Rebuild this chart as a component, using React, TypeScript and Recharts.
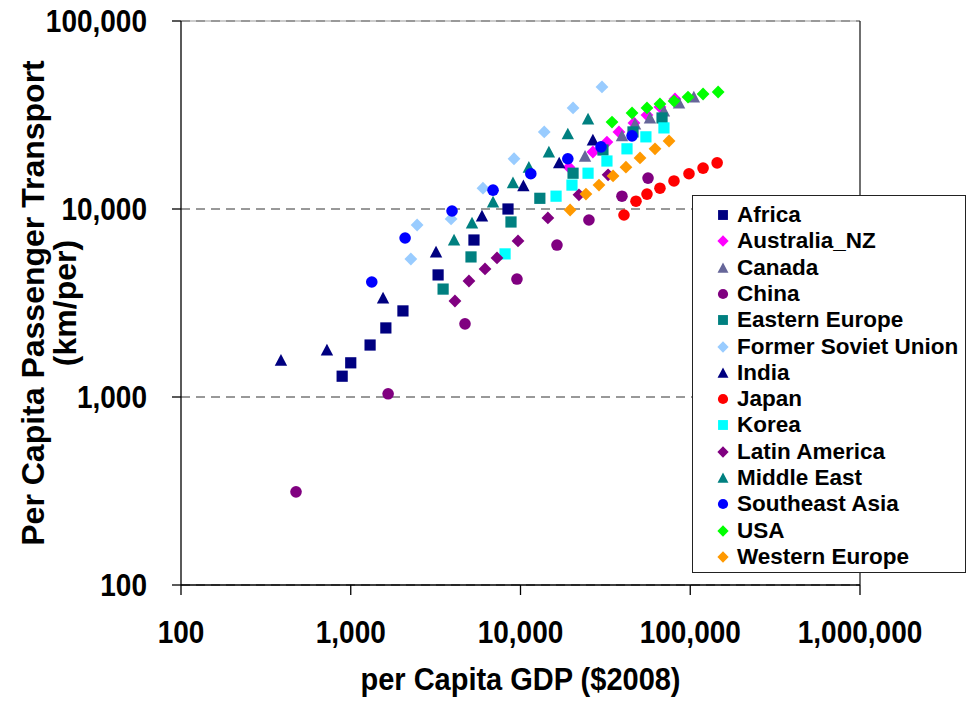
import React from "react";
import { CartesianGrid, Legend, ReferenceLine, Scatter, ScatterChart, XAxis, YAxis } from "recharts";

type Pt = [number, number];

// [GDP per capita ($2008), passenger km per capita]
const africa: Pt[] = [[890, 1290], [1000, 1520], [1300, 1890], [1610, 2330], [2030, 2870], [3270, 4460], [5320, 6840], [8440, 10000]];
const australiaNz: Pt[] = [[19300, 16700], [26700, 20100], [32300, 22700], [38000, 25700], [46600, 28700], [55600, 31600], [66300, 34900], [81300, 38500]];
const canada: Pt[] = [[24000, 19100], [39600, 24500], [47300, 28300], [57900, 30500], [70000, 33200], [85900, 36600], [105000, 39400]];
const china: Pt[] = [[476, 313], [1660, 1040], [4710, 2450], [9530, 4240], [16400, 6430], [25300, 8740], [39600, 11700], [56400, 14600]];
const easternEurope: Pt[] = [[3500, 3750], [5110, 5560], [8790, 8530], [13000, 11400], [20400, 15500], [30600, 20600], [46000, 25700], [68200, 30500]];
const formerSoviet: Pt[] = [[2260, 5420], [2460, 8220], [3900, 8850], [6010, 12900], [9160, 18500], [13800, 25700], [20400, 34500], [30200, 44600]];
const india: Pt[] = [[388, 1570], [724, 1780], [1550, 3360], [3180, 5910], [5930, 9180], [10400, 13300], [16900, 17600], [26700, 23300]];
const japan: Pt[] = [[40700, 9290], [47900, 11000], [55600, 12000], [66300, 12900], [80200, 14100], [98300, 15400], [119000, 16500], [144000, 17600]];
const korea: Pt[] = [[8110, 5770], [16200, 11700], [20100, 13400], [25000, 15500], [32300, 18000], [42400, 20900], [54800, 24200], [70000, 27000]];
const latinAmerica: Pt[] = [[4110, 3240], [4970, 4140], [6180, 4800], [7270, 5490], [9670, 6760], [14500, 8960], [22100, 11900], [32800, 15200]];
const middleEast: Pt[] = [[4060, 6840], [5180, 8430], [6890, 10900], [9030, 13800], [11200, 16700], [14700, 20100], [19000, 25100], [25000, 30100]];
const southeastAsia: Pt[] = [[1330, 4090], [2090, 7010], [3950, 9760], [6890, 12600], [11500, 15400], [19000, 18500], [29800, 21400], [45400, 24500]];
const usa: Pt[] = [[34600, 29000], [45400, 32400], [55600, 34500], [66300, 36200], [80200, 37500], [97000, 39400], [119000, 40900], [146000, 41900]];
const westernEurope: Pt[] = [[19600, 9880], [24300, 12000], [29000, 13400], [35100, 15000], [41800, 16700], [50600, 18700], [62000, 20900], [75000, 23000]];

const xTicks = [100, 1000, 10000, 100000, 1000000];
const yTicks = [100, 1000, 10000, 100000];

type Shape = "square" | "diamond" | "triangle" | "circle";

const SERIES: { name: string; color: string; shape: Shape; data: Pt[] }[] = [
  { name: "Africa", color: "#000080", shape: "square", data: africa },
  { name: "Australia_NZ", color: "#FF00FF", shape: "diamond", data: australiaNz },
  { name: "Canada", color: "#666699", shape: "triangle", data: canada },
  { name: "China", color: "#800080", shape: "circle", data: china },
  { name: "Eastern Europe", color: "#008080", shape: "square", data: easternEurope },
  { name: "Former Soviet Union", color: "#99CCFF", shape: "diamond", data: formerSoviet },
  { name: "India", color: "#000080", shape: "triangle", data: india },
  { name: "Japan", color: "#FF0000", shape: "circle", data: japan },
  { name: "Korea", color: "#00FFFF", shape: "square", data: korea },
  { name: "Latin America", color: "#800080", shape: "diamond", data: latinAmerica },
  { name: "Middle East", color: "#008080", shape: "triangle", data: middleEast },
  { name: "Southeast Asia", color: "#0000FF", shape: "circle", data: southeastAsia },
  { name: "USA", color: "#00FF00", shape: "diamond", data: usa },
  { name: "Western Europe", color: "#FF9900", shape: "diamond", data: westernEurope },
];

const FONT = '"Liberation Sans", Arial, sans-serif';
const W = 968;
const H = 701;
const L = 181;
const T = 21;
const R = 860;
const B = 585;

const fmt = (v: number) => v.toLocaleString("en-US");

function Marker({ cx, cy, shape, color, k = 1 }: { cx: number; cy: number; shape: Shape; color: string; k?: number }) {
  if (cx == null || cy == null) return null;
  if (shape === "square") {
    const h = 5.6 * k;
    return <rect x={cx - h} y={cy - h} width={2 * h} height={2 * h} fill={color} />;
  }
  if (shape === "circle") return <circle cx={cx} cy={cy} r={5.8 * k} fill={color} />;
  if (shape === "diamond") {
    const h = 6.4 * k;
    return <path d={`M${cx},${cy - h}L${cx + h},${cy}L${cx},${cy + h}L${cx - h},${cy}Z`} fill={color} />;
  }
  const w = 6.2 * k;
  return <path d={`M${cx},${cy - 6.2 * k}L${cx + w},${cy + 5.5 * k}L${cx - w},${cy + 5.5 * k}Z`} fill={color} />;
}

const XTick = ({ x, y, payload }: any) => (
  <g transform={`translate(${x},${y + 46}) scale(1,1.1)`}>
    <text textAnchor="middle" fontFamily={FONT} fontWeight="bold" fontSize={28} fill="#000">
      {fmt(payload.value)}
    </text>
  </g>
);

const YTick = ({ x, y, payload }: any) => (
  <g transform={`translate(${x - 23},${y + 11}) scale(1,1.1)`}>
    <text textAnchor="end" fontFamily={FONT} fontWeight="bold" fontSize={28} fill="#000">
      {fmt(payload.value)}
    </text>
  </g>
);

const XTitle = () => (
  <g transform={`translate(${(L + R) / 2},690) scale(1,1.1)`}>
    <text textAnchor="middle" fontFamily={FONT} fontWeight="bold" fontSize={29} fill="#000">
      per Capita GDP ($2008)
    </text>
  </g>
);

const YTitle = () => (
  <g fontFamily={FONT} fontWeight="bold" fontSize={32} fill="#000">
    <text transform={`translate(44,${(T + B) / 2}) rotate(-90)`} textAnchor="middle">
      Per Capita Passenger Transport
    </text>
    <text transform={`translate(76,${(T + B) / 2}) rotate(-90)`} textAnchor="middle">
      (km/per)
    </text>
  </g>
);

const LegendBox = () => (
  <div
    style={{
      position: "relative",
      width: 274,
      height: 378,
      boxSizing: "border-box",
      border: "1.5px solid #222",
      background: "#fff",
      fontFamily: FONT,
      fontWeight: "bold",
      fontSize: 22.5,
      color: "#000",
    }}
  >
    {SERIES.map((s, i) => (
      <div
        key={s.name}
        style={{ position: "absolute", left: 0, top: 19 + i * 26.3 - 13, height: 26, display: "flex", alignItems: "center", whiteSpace: "nowrap" }}
      >
        <svg width={16} height={16} style={{ marginLeft: 22, marginRight: 6 }}>
          <Marker cx={8} cy={8} shape={s.shape} color={s.color} k={0.88} />
        </svg>
        <span>{s.name}</span>
      </div>
    ))}
  </div>
);

export default function App() {
  return (
    <div style={{ position: "absolute", left: 0, top: 0, width: W, height: H, background: "#fff" }}>
      <ScatterChart width={W} height={H} margin={{ top: T, right: W - R, bottom: 0, left: 0 }}>
        <CartesianGrid vertical={false} stroke="#333" strokeDasharray="9 6" />
        <XAxis
          dataKey="x"
          type="number"
          scale="log"
          domain={[100, 1000000]}
          ticks={xTicks}
          interval={0}
          allowDataOverflow
          height={H - B}
          tickSize={10}
          axisLine={{ stroke: "#000", strokeWidth: 1.3 }}
          tickLine={{ stroke: "#000", strokeWidth: 1.3 }}
          tick={(p: any) => <XTick {...p} />}
          label={<XTitle />}
        />
        <YAxis
          dataKey="y"
          type="number"
          scale="log"
          domain={[100, 100000]}
          ticks={yTicks}
          interval={0}
          allowDataOverflow
          width={L}
          tickSize={9}
          axisLine={{ stroke: "#000", strokeWidth: 1.3 }}
          tickLine={{ stroke: "#000", strokeWidth: 1.3 }}
          tick={(p: any) => <YTick {...p} />}
          label={<YTitle />}
        />
        <ReferenceLine y={100000} stroke="#999" />
        <ReferenceLine x={1000000} stroke="#222" strokeWidth={1.3} />
        {SERIES.map((s) => (
          <Scatter
            key={s.name}
            name={s.name}
            data={s.data.map(([x, y]) => ({ x, y }))}
            fill={s.color}
            isAnimationActive={false}
            shape={(p: any) => <Marker cx={p.cx} cy={p.cy} shape={s.shape} color={s.color} />}
          />
        ))}
        <Legend
          verticalAlign="middle"
          layout="horizontal"
          wrapperStyle={{ left: 692, top: 195, width: 274, height: 378 }}
          content={() => <LegendBox />}
        />
      </ScatterChart>
    </div>
  );
}
